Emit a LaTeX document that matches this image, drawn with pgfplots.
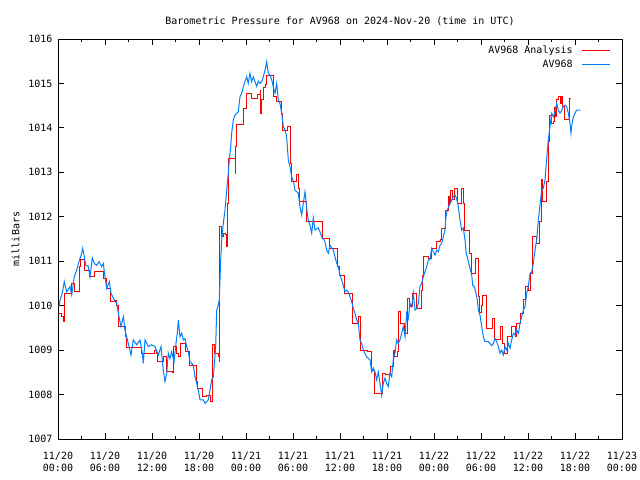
\documentclass[border=0pt]{standalone}
\usepackage{pgfplots}
\pgfplotsset{compat=1.18}
\usepackage{fontspec}
\setmainfont{DejaVu Sans Mono}
\definecolor{gpred}{RGB}{255,0,0}
\definecolor{gpblue}{RGB}{0,128,255}
\pgfplotstableread{
h p
0.04 1009.83
0.51 1009.75
0.64 1009.65
0.77 1009.94
0.89 1010.28
1.75 1010.50
2.08 1010.31
2.72 1010.88
2.81 1011.03
3.36 1010.80
3.96 1010.65
4.72 1010.76
5.87 1010.61
6.22 1010.39
6.64 1010.09
7.21 1010.12
7.53 1010.00
7.70 1009.53
8.68 1009.30
8.77 1009.06
10.68 1008.93
12.38 1009.00
12.60 1008.93
12.72 1008.74
13.44 1008.86
13.79 1008.51
14.62 1008.49
14.75 1009.08
15.19 1008.93
15.36 1008.86
15.66 1009.15
16.34 1008.96
16.85 1008.66
17.62 1008.29
17.87 1008.14
18.51 1007.95
18.98 1007.99
19.49 1007.84
19.75 1009.12
19.92 1008.93
20.43 1008.86
20.59 1008.74
20.68 1011.78
20.90 1011.55
21.10 1011.62
21.32 1011.60
21.54 1011.33
21.66 1012.30
21.74 1013.32
22.60 1012.98
22.72 1013.58
22.81 1014.07
23.66 1014.12
23.74 1014.44
24.00 1014.78
24.72 1014.67
25.53 1014.75
25.79 1014.85
25.87 1014.33
26.00 1014.65
26.21 1014.90
26.43 1014.98
26.64 1015.19
27.57 1014.70
27.92 1014.59
28.56 1014.33
28.68 1013.95
29.36 1014.03
29.70 1013.20
29.83 1012.79
30.51 1012.95
30.68 1012.63
30.89 1012.34
31.75 1011.89
33.74 1011.51
34.72 1011.29
35.66 1010.88
35.91 1010.69
36.55 1010.28
37.62 1009.60
38.34 1009.75
38.64 1009.00
39.57 1008.96
40.08 1008.55
40.43 1008.03
41.45 1008.48
41.87 1008.45
42.51 1008.63
42.80 1009.00
43.02 1008.86
43.37 1008.96
43.44 1009.86
43.66 1009.60
44.21 1009.38
44.59 1010.17
44.85 1009.98
45.28 1010.28
45.79 1009.94
46.34 1010.35
46.55 1010.69
46.64 1011.10
47.28 1011.07
47.70 1011.29
48.34 1011.44
48.77 1011.48
48.98 1011.74
49.53 1012.15
49.83 1012.45
49.95 1012.30
50.13 1012.60
50.30 1012.38
50.59 1012.64
51.02 1012.30
51.53 1012.64
51.74 1012.30
51.83 1011.70
52.51 1011.18
52.81 1010.73
53.36 1011.07
53.66 1010.20
53.79 1009.85
54.09 1010.00
54.22 1010.24
54.64 1009.83
54.72 1009.49
55.49 1009.71
55.66 1009.23
56.43 1009.53
56.77 1009.15
56.94 1008.93
57.36 1009.30
57.92 1009.53
58.34 1009.30
58.55 1009.60
58.98 1009.83
59.41 1010.13
59.62 1010.43
60.04 1010.35
60.26 1010.73
60.60 1011.55
61.11 1011.40
61.45 1011.89
61.75 1012.83
61.87 1012.34
62.30 1012.79
62.59 1013.69
62.72 1014.29
62.94 1014.10
63.23 1014.15
63.36 1014.45
63.57 1014.25
63.66 1014.63
63.87 1014.70
64.09 1014.55
64.30 1014.70
64.43 1014.48
64.72 1014.18
65.28 1014.40
65.36 1014.67
65.45 1014.67
}\analysis
\pgfplotstableread{
h p
0.13 1009.98
0.26 1010.13
0.55 1010.28
0.80 1010.54
1.11 1010.31
1.53 1010.43
1.75 1010.24
2.08 1010.65
2.39 1010.80
2.68 1010.99
3.03 1011.18
3.15 1011.29
3.36 1011.10
3.54 1010.91
3.87 1010.88
4.09 1010.65
4.38 1011.07
4.63 1010.95
4.94 1010.91
5.23 1010.99
5.58 1010.88
5.78 1010.95
6.00 1010.65
6.22 1010.39
6.55 1010.54
6.77 1010.28
7.06 1010.17
7.49 1010.05
7.79 1009.75
8.04 1009.53
8.34 1009.75
8.55 1009.45
8.77 1009.30
9.06 1009.08
9.32 1008.89
9.61 1009.23
10.05 1009.12
10.47 1009.23
10.76 1008.93
10.89 1008.70
11.11 1009.23
11.53 1009.08
11.96 1009.12
12.38 1009.08
12.80 1008.89
13.15 1009.08
13.44 1008.55
13.66 1008.29
13.88 1008.48
14.08 1008.93
14.30 1008.81
14.51 1008.96
14.81 1008.74
15.06 1009.15
15.23 1009.38
15.36 1009.68
15.57 1009.30
15.79 1009.38
16.00 1009.23
16.21 1009.26
16.43 1009.08
16.63 1008.96
16.85 1008.74
17.27 1008.66
17.49 1008.40
17.71 1008.25
17.91 1008.10
18.13 1007.88
18.55 1007.88
18.77 1007.80
19.19 1007.88
19.40 1008.10
19.62 1008.33
19.83 1008.40
20.13 1009.08
20.26 1009.90
20.46 1010.01
20.59 1010.13
20.77 1011.03
20.90 1011.48
21.10 1011.85
21.32 1012.15
21.54 1012.60
21.74 1012.98
21.87 1013.28
22.05 1013.58
22.17 1013.88
22.38 1014.18
22.60 1014.29
23.02 1014.36
23.23 1014.70
23.45 1014.78
23.66 1014.93
23.87 1015.04
24.09 1015.15
24.29 1015.00
24.51 1015.23
24.72 1015.04
24.93 1015.15
25.37 1014.93
25.57 1015.05
25.79 1015.00
26.00 1015.04
26.21 1015.15
26.43 1015.30
26.64 1015.49
26.85 1015.23
27.06 1015.19
27.28 1015.08
27.48 1014.93
27.70 1014.78
27.92 1015.00
28.12 1014.63
28.34 1014.55
28.56 1014.33
28.76 1014.03
28.98 1013.95
29.19 1013.80
29.40 1013.28
29.62 1013.12
29.83 1012.90
30.05 1012.80
30.26 1012.60
30.68 1012.53
30.89 1012.23
31.11 1012.04
31.31 1012.30
31.53 1012.56
31.75 1012.19
31.95 1011.93
32.17 1011.81
32.39 1011.63
32.59 1011.97
32.81 1011.70
33.23 1011.75
33.45 1011.66
33.66 1011.55
33.87 1011.51
34.08 1011.44
34.30 1011.25
34.51 1011.18
34.72 1011.36
35.14 1011.25
35.36 1011.10
35.58 1010.95
35.78 1010.88
36.00 1010.69
36.22 1010.58
36.42 1010.46
36.64 1010.31
36.86 1010.35
37.06 1010.31
37.28 1010.20
37.49 1010.09
37.70 1009.94
37.91 1009.83
38.13 1009.68
38.34 1009.60
38.55 1009.23
38.77 1009.15
38.98 1009.00
39.40 1008.85
39.83 1008.78
40.05 1008.51
40.25 1008.60
40.47 1008.51
40.68 1008.33
40.89 1008.51
41.11 1008.25
41.32 1007.99
41.53 1008.25
41.74 1008.37
41.96 1008.25
42.17 1008.18
42.38 1008.48
42.60 1008.40
42.80 1008.78
43.02 1008.93
43.24 1009.23
43.44 1009.15
43.66 1009.23
43.87 1009.38
44.08 1009.53
44.30 1009.30
44.51 1009.83
44.72 1009.71
44.94 1010.05
45.15 1009.98
45.36 1010.28
45.57 1009.90
45.79 1009.94
46.00 1010.05
46.21 1010.43
46.43 1010.50
46.64 1010.65
47.07 1010.88
47.28 1011.03
47.49 1011.03
47.70 1011.29
47.92 1011.21
48.13 1011.14
48.34 1011.25
48.55 1011.21
48.77 1011.36
48.98 1011.40
49.19 1011.55
49.40 1011.70
49.53 1012.00
49.70 1012.15
49.95 1012.26
50.26 1012.38
50.47 1012.45
50.68 1012.49
50.89 1012.41
51.10 1012.23
51.32 1011.93
51.53 1011.70
51.74 1011.75
51.96 1011.48
52.09 1011.21
52.38 1010.99
52.60 1010.84
52.81 1010.69
52.94 1010.46
53.15 1010.43
53.36 1010.28
53.53 1010.13
53.66 1009.90
53.87 1009.79
54.09 1009.53
54.30 1009.30
54.51 1009.19
54.94 1009.19
55.15 1009.15
55.36 1009.10
55.57 1009.15
55.79 1009.26
56.00 1009.19
56.21 1009.08
56.43 1008.93
56.64 1009.00
56.85 1008.89
57.06 1009.08
57.28 1009.00
57.49 1009.15
57.70 1009.04
57.92 1009.23
58.13 1009.38
58.34 1009.34
58.55 1009.45
58.77 1009.38
58.98 1009.60
59.19 1009.75
59.41 1009.90
59.62 1009.98
59.83 1010.28
60.04 1010.43
60.26 1010.73
60.47 1010.76
60.68 1010.95
60.89 1011.25
61.11 1011.48
61.32 1011.93
61.53 1012.26
61.75 1012.60
61.95 1012.64
62.17 1012.83
62.38 1013.28
62.59 1013.73
62.81 1014.03
63.03 1014.33
63.23 1014.25
63.45 1014.36
63.66 1014.55
63.87 1014.40
64.09 1014.33
64.30 1014.40
64.51 1014.48
64.72 1014.51
64.94 1014.48
65.15 1014.33
65.36 1014.10
65.49 1013.88
65.62 1014.10
65.79 1014.25
66.00 1014.33
66.21 1014.40
66.64 1014.40
}\station
\begin{document}
\fontsize{10bp}{12bp}\selectfont
\begin{tikzpicture}
\path[use as bounding box] (-58bp,-41bp) rectangle (582bp,439bp);
\begin{axis}[
  at={(0,0)}, anchor=south west,
  scale only axis, width=564bp, height=400bp,
  xmin=0, xmax=72, ymin=1007, ymax=1016,
  xtick={0,6,...,72},
  minor xtick={3,9,...,69},
  ytick={1007,1008,...,1016},
  xticklabels={{11/20\\00:00},{11/20\\06:00},{11/20\\12:00},{11/20\\18:00},{11/21\\00:00},{11/21\\06:00},{11/21\\12:00},{11/21\\18:00},{11/22\\00:00},{11/22\\06:00},{11/22\\12:00},{11/22\\18:00},{11/23\\00:00}},
  xticklabel style={align=center, font=\fontsize{10bp}{12bp}\selectfont, yshift=-10bp},
  yticklabel style={font=\fontsize{10bp}{12bp}\selectfont, xshift=-2bp},
  /pgf/number format/assume math mode=true,
  /pgf/number format/1000 sep={},
  tick align=inside,
  major tick length=6bp, minor tick length=3bp,
  tick style={black, line width=0.8bp},
  axis line style={line width=0.8bp},
  title={Barometric Pressure for AV968 on 2024-Nov-20 (time in UTC)},
  title style={font=\fontsize{10bp}{12bp}\selectfont, yshift=4bp},
  ylabel={milliBars},
  ylabel style={font=\fontsize{10bp}{12bp}\selectfont, yshift=2bp},
  legend style={draw=none, fill=none, at={(1,1)}, anchor=north east, xshift=-8bp, yshift=-3bp, font=\fontsize{10bp}{12bp}\selectfont, row sep=1bp, /tikz/every odd column/.append style={column sep=7bp}},
  legend cell align=right,
  legend plot pos=right,
]
\addlegendimage{draw=gpred, line width=1.2bp, legend image code/.code={\draw[draw=gpred, line width=1.2bp] (0bp,0bp) -- (28bp,0bp);}}
\addlegendentry{AV968 Analysis}
\addlegendimage{draw=gpblue, line width=1.2bp, legend image code/.code={\draw[draw=gpblue, line width=1.2bp] (0bp,0bp) -- (28bp,0bp);}}
\addlegendentry{AV968}
\addplot[const plot, color=gpred, line width=1bp, forget plot] table[x=h, y=p] {\analysis};
\addplot[color=gpblue, line width=1bp, forget plot] table[x=h, y=p] {\station};
\end{axis}
\end{tikzpicture}
\end{document}
